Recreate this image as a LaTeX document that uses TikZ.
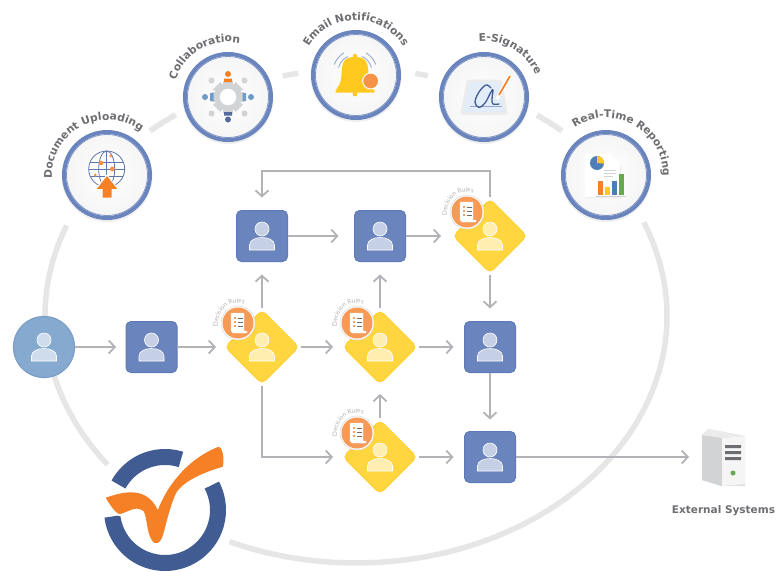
\documentclass[tikz,border=0pt]{standalone}
\usepackage{fontspec}
\setmainfont{DejaVu Sans}
\newfontfamily\rulesfam{Lato}
\usetikzlibrary{arrows.meta,shapes.geometric,decorations.text}
\definecolor{ringgray}{HTML}{E6E6E6}
\definecolor{hubblue}{HTML}{6A84BD}
\definecolor{boxblue}{HTML}{6A84BD}
\definecolor{boxedge}{HTML}{5F7AB8}
\definecolor{startfill}{HTML}{86A9CF}
\definecolor{startedge}{HTML}{7A9FC8}
\definecolor{dyellow}{HTML}{FFD540}
\definecolor{dedge}{HTML}{FFCF33}
\definecolor{arrowgray}{HTML}{B2B3B7}
\definecolor{labelgray}{HTML}{6D6E71}
\definecolor{rulegray}{HTML}{B4B4B4}
\definecolor{badge}{HTML}{F79A55}
\definecolor{orangeicon}{HTML}{F58025}
\definecolor{logoblue}{HTML}{415C92}
\definecolor{gearc}{HTML}{D1D3D4}
\definecolor{bell}{HTML}{FFC91F}
\definecolor{softblue}{HTML}{6D9CC9}
\definecolor{chartblue}{HTML}{4F7DB5}
\definecolor{chartgreen}{HTML}{6AA84F}
\definecolor{padblue}{HTML}{E3ECF9}
\definecolor{personblue}{HTML}{C5CFE6}
\definecolor{personstart}{HTML}{CFDCEB}
\definecolor{personyellow}{HTML}{FFEEB0}
\newcommand\hubfont{\fontsize{10.7}{12}\selectfont\bfseries\color{labelgray}}
\newcommand\rulesfont{\rulesfam\fontsize{6.4}{7}\selectfont\color{rulegray}}
\tikzset{
  x=1pt,y=-1pt,
  ring/.style={draw=ringgray,line width=5.5pt,line cap=butt},
  flow/.style={draw=arrowgray,line width=1.8pt,-{Straight Barb[length=6pt,width=13pt]}},
  taskbox/.style={rectangle,rounded corners=5pt,draw=boxedge,line width=1pt,fill=boxblue,minimum size=51pt,inner sep=0pt,outer sep=0pt},
  gate/.style={diamond,aspect=1,rounded corners=5pt,fill=dyellow,draw=dedge,line width=.8pt,minimum width=74pt,minimum height=74pt,inner sep=0pt,outer sep=0pt},
  startnode/.style={circle,draw=startedge,line width=1.2pt,fill=startfill,minimum size=61pt,inner sep=0pt,outer sep=0pt},
  hub/.style={circle,draw=hubblue,line width=4pt,inner color=white,outer color=white!96!black,minimum size=86pt,inner sep=0pt,outer sep=0pt},
  pics/personicon/.style={code={
    \draw[white,line width=.6pt,fill=#1] (0,-7) circle (7pt);
    \draw[white,line width=.6pt,fill=#1] (-12.5,14) -- (-12.5,9) .. controls (-12.5,4) and (-6,1.5) .. (0,1.5) .. controls (6,1.5) and (12.5,4) .. (12.5,9) -- (12.5,14) -- cycle;
  }},
  pics/rulesbadge/.style={code={
    \draw[white!85!black,line width=.5pt,fill=white] (0,0) circle (17pt);
    \fill[badge] (0,0) circle (15.5pt);
    \draw[white!88!black,line width=.3pt,fill=white] (-7,-10) -- (6,-10) -- (6,8) -- (9,8) -- (9,10) -- (-5,10) -- (-7,8) -- cycle;
    \foreach \yy in {-5,-1,3}{
      \fill[orangeicon] (-3,\yy) circle (1.1pt);
      \draw[labelgray,line width=.7pt] (0,\yy) -- (5,\yy);
    }
    \path[decorate,decoration={text along path,text align=center,text={|\rulesfont|Decision Rules}}]
      plot[domain=130:328,samples=40] ({20*cos(\x)},{20*sin(\x)});
  }}
}
\begin{document}
\begin{tikzpicture}
\useasboundingbox (0,0) rectangle (780,571);
\fill[white] (0,0) rectangle (780,571);

% large ring
\draw[ring] plot[domain=201.5:143,samples=60] ({356+311*cos(\x)},{316+247*sin(\x)});
\draw[ring] plot[domain=114:-22.3,samples=100] ({356+311*cos(\x)},{316+247*sin(\x)});
\draw[ring] plot[domain=228.5:234.6,samples=6] ({356+311*cos(\x)},{316+247*sin(\x)});
\draw[ring] plot[domain=256.4:259.3,samples=4] ({356+311*cos(\x)},{316+247*sin(\x)});
\draw[ring] plot[domain=281:283.4,samples=4] ({356+311*cos(\x)},{316+247*sin(\x)});
\draw[ring] plot[domain=305.6:311.5,samples=6] ({356+311*cos(\x)},{316+247*sin(\x)});

% hubs
\foreach \hx/\hy in {107/175,228/97,356/75,484/97,606/175}
  \fill[black!30,opacity=.2] (\hx,\hy+1.5) circle (45.5pt);
\node[hub] (hubdoc) at (107,175) {};
\node[hub] (hubcol) at (228,97) {};
\node[hub] (hubmail) at (356,75) {};
\node[hub] (hubsign) at (484,97) {};
\node[hub] (hubrep) at (606,175) {};
\foreach \h in {hubdoc,hubcol,hubmail,hubsign,hubrep}
  \draw[hubblue!85!white,line width=.8pt] (\h.center) circle (40.5pt);

% hub labels
\path[decorate,decoration={text along path,text align=center,text={|\hubfont|Document Uploading}}]
  plot[domain=142:342,samples=80] ({107+55*cos(\x)},{175+55*sin(\x)});
\path[decorate,decoration={text along path,text align=center,text={|\hubfont|Collaboration}}]
  plot[domain=140:340,samples=80] ({228+55*cos(\x)},{97+55*sin(\x)});
\path[decorate,decoration={text along path,text align=center,text={|\hubfont|Email Notifications}}]
  plot[domain=170:370,samples=80] ({356+55*cos(\x)},{75+55*sin(\x)});
\path[decorate,decoration={text along path,text align=center,text={|\hubfont|E-Signature}}]
  plot[domain=201:401,samples=80] ({484+56*cos(\x)},{97+56*sin(\x)});
\path[decorate,decoration={text along path,text align=center,text={|\hubfont|Real-Time Reporting}}]
  plot[domain=199:399,samples=80] ({606+57*cos(\x)},{175+57*sin(\x)});

% globe icon
\begin{scope}[draw=hubblue!90!black,line width=.8pt]
  \draw[fill=white] (106.7,169) circle (18pt);
  \draw (106.7,169) ellipse (8pt and 18pt);
  \draw (106.7,151) -- (106.7,187);
  \draw (88.7,169) -- (124.7,169);
  \draw (90.1,162) -- (123.3,162);
  \draw (90.1,176) -- (123.3,176);
\end{scope}
\fill[orangeicon!85!white] (101,163) circle (2.4pt) (112.3,169) circle (2.4pt) (110.7,156) circle (1.6pt) (95.3,175) circle (1.6pt);
\draw[white,line width=1pt,fill=orangeicon] (107,175) -- (118.5,189.5) -- (112,189.5) -- (112,198) -- (102,198) -- (102,189.5) -- (95.5,189.5) -- cycle;

% collaboration icon
\foreach \a in {0,45,...,315}
  \fill[gearc,rotate around={\a:(228,97)}] (223,81) rectangle (233,90);
\fill[gearc] (228,97) circle (13pt);
\fill[white] (228,97) circle (8.3pt);
\fill[gearc] (211.5,80.5) circle (3pt) (244.5,80.5) circle (3pt) (211.5,113.5) circle (3pt) (244.5,113.5) circle (3pt);
\fill[orangeicon] (228,74) circle (3pt) (224,78.5) rectangle (232,82);
\fill[logoblue!90!white] (228,119.5) circle (3pt) (224,112) rectangle (232,115.5);
\fill[softblue] (205,97) circle (3pt) (251,97) circle (3pt);
\fill[softblue] (210,93) rectangle (213.5,101) (242.5,93) rectangle (246,101);

% bell icon
\draw[hubblue!70!white,line width=.9pt] plot[domain=195:245,samples=12] ({355+17*cos(\x)},{72+17*sin(\x)});
\draw[hubblue!70!white,line width=.9pt] plot[domain=200:240,samples=12] ({355+22*cos(\x)},{72+22*sin(\x)});
\draw[hubblue!70!white,line width=.9pt] plot[domain=-65:-15,samples=12] ({355+17*cos(\x)},{72+17*sin(\x)});
\draw[hubblue!70!white,line width=.9pt] plot[domain=-60:-20,samples=12] ({355+22*cos(\x)},{72+22*sin(\x)});
\fill[bell] (355,56) circle (2.2pt) (355,94) circle (2.4pt);
\fill[bell,rounded corners=1pt] (355,57) .. controls (342,57) and (342,66) .. (341.5,75) .. controls (341,85) and (337,87) .. (335,92.5) -- (375,92.5) .. controls (373,87) and (369,85) .. (368.5,75) .. controls (368,66) and (368,57) .. (355,57) -- cycle;
\draw[white,line width=1pt,fill=orangeicon!85!white] (370.7,81) circle (8pt);

% signature icon
\fill[gray!15,rounded corners=2pt] (467,79.5) -- (502,79.5) -- (508,115) -- (460,115) -- cycle;
\fill[padblue] (469,82) -- (500,82) -- (505,112) -- (463,112) -- cycle;
\draw[hubblue!70!white,line width=.5pt] (470,106.7) -- (501.7,106.7);
\draw[logoblue,line width=1.3pt,line cap=round] plot[smooth,tension=.6] coordinates {(491,88) (486,85) (479,92) (475,102) (479,107.5) (485,103) (491,92) (493,90) (492,99) (493,104) (499,104)};
\draw[white,line width=3.5pt] (510,75) -- (497,99);
\draw[orangeicon,line width=1.7pt] (510,76) -- (499,95);

% report icon
\fill[black!8] (586,155) -- (610,155) -- (621,166) -- (621,198) -- (586,198) -- cycle;
\fill[white] (585,153.5) -- (610,153.5) -- (620,164) -- (620,197) -- (585,197) -- cycle;
\fill[chartblue] (597,163) circle (7pt);
\fill[bell] (597,163) -- plot[domain=-90:5,samples=12] ({597+7*cos(\x)},{163+7*sin(\x)}) -- cycle;
\draw[gearc,line width=.8pt] (604,170) -- (616,170) (604,173) -- (616,173) (604,176) -- (613,176);
\fill[orangeicon] (598,181) rectangle (603,195);
\fill[bell] (605,187) rectangle (610,195);
\fill[chartblue] (612,181) rectangle (616.5,195);
\fill[chartgreen] (618.5,174) rectangle (623.5,195);
\draw[gearc,line width=1pt] (596,196) -- (626,196);

% flow nodes
\node[startnode] (start) at (44,347) {};
\node[taskbox] (sq1) at (151.5,347) {};
\node[taskbox] (sqA) at (262,236) {};
\node[taskbox] (sqB) at (380,236) {};
\node[taskbox] (sqC) at (490,347) {};
\node[taskbox] (sqD) at (490,457) {};
\node[gate] (d1) at (262,347) {};
\node[gate] (d2) at (380,347) {};
\node[gate] (d3) at (380,457) {};
\node[gate] (d4) at (490,236) {};
\node[inner sep=0pt,outer sep=0pt,minimum width=43pt,minimum height=53pt] (server) at (723.5,459.5) {};
\coordinate (fb) at (380,171);

% connectors
\draw[flow,shorten >=10pt] (start.east) -- (sq1.west);
\draw[flow,shorten >=9pt] (sq1.east) -- (d1.west);
\draw[flow,shorten <=2pt,shorten >=13pt] (d1.north) -- (sqA.south);
\draw[flow,shorten >=16pt] (sqA.east) -- (sqB.west);
\draw[flow,shorten >=12pt] (sqB.east) -- (d4.west);
\draw[flow,shorten <=2pt,shorten >=10pt] (d1.east) -- (d2.west);
\draw[flow,shorten <=2pt,shorten >=11pt] (d2.east) -- (sqC.west);
\draw[flow,shorten <=2pt,shorten >=13pt] (d2.north) -- (sqB.south);
\draw[flow,shorten <=2pt,shorten >=13pt] (d4.south) -- (sqC.north);
\draw[flow,shorten >=12pt] (sqC.south) -- (sqD.north);
\draw[flow,shorten <=2pt,shorten >=10pt] (d3.north) -- (d2.south);
\draw[flow,shorten <=2pt,shorten >=10pt] (d1.south) |- (d3.west);
\draw[flow,shorten <=2pt,shorten >=11pt] (d3.east) -- (sqD.west);
\draw[flow,shorten >=13pt] (sqD.east) -- (sqD.east -| server.west);
\draw[flow,shorten <=2pt,shorten >=13pt] (d4.north) |- (fb) -| (sqA.north);

% persons
\pic at (start.center) {personicon=personstart};
\foreach \n in {sq1,sqA,sqB,sqC,sqD}
  \pic at (\n.center) {personicon=personblue};
\foreach \n in {d1,d2,d3,d4}
  \pic at (\n.center) {personicon=personyellow};

% decision rule badges
\pic at (238,323) {rulesbadge};
\pic at (357,323) {rulesbadge};
\pic at (357,433) {rulesbadge};
\pic at (467,212) {rulesbadge};

% server
\fill[gearc!70!white] (702,435) -- (708,429) -- (745,436) -- (745,486) -- (722,486) -- (702,480) -- cycle;
\fill[gearc] (702,435) -- (722,438) -- (722,486) -- (702,480) -- cycle;
\fill[white!96!black] (722,438) -- (745,436) -- (745,484) -- (722,486) -- cycle;
\fill[white!92!black] (702,435) -- (708,429) -- (745,436) -- (722,438) -- cycle;
\fill[labelgray] (725,445) rectangle (741,448) (725,451) rectangle (741,454) (725,457) rectangle (741,460);
\fill[chartgreen] (733,473) circle (2.5pt);
\node[font=\fontsize{10.5}{12}\selectfont\bfseries,text=labelgray,inner sep=0pt] (extlabel) at (723.5,510.5) {External Systems};

% logo
\draw[logoblue,line width=16pt] plot[domain=208.7:287.5,samples=30] ({165+53*cos(\x)},{510+53*sin(\x)});
\draw[logoblue,line width=16pt] plot[domain=-28:173,samples=60] ({165+53*cos(\x)},{510+53*sin(\x)});
\path[preaction={draw=white,line width=4pt},fill=orangeicon] (105.7,497.7) .. controls (123,491.7) and (143,487) .. (155,505) -- (158,510) .. controls (165,490) and (185,460) .. (218,447) .. controls (222,446) and (225,458) .. (222.7,466.7) .. controls (205,472) and (185,480) .. (176.7,492) .. controls (170,505) and (166,525) .. (163,535) .. controls (160,545) and (154,545) .. (151.7,540) .. controls (146,532) and (147,510) .. (141.7,510) .. controls (135,506) and (128,512) .. (120,514) .. controls (116,514) and (110,505) .. (105.7,497.7) -- cycle;
\end{tikzpicture}
\end{document}
